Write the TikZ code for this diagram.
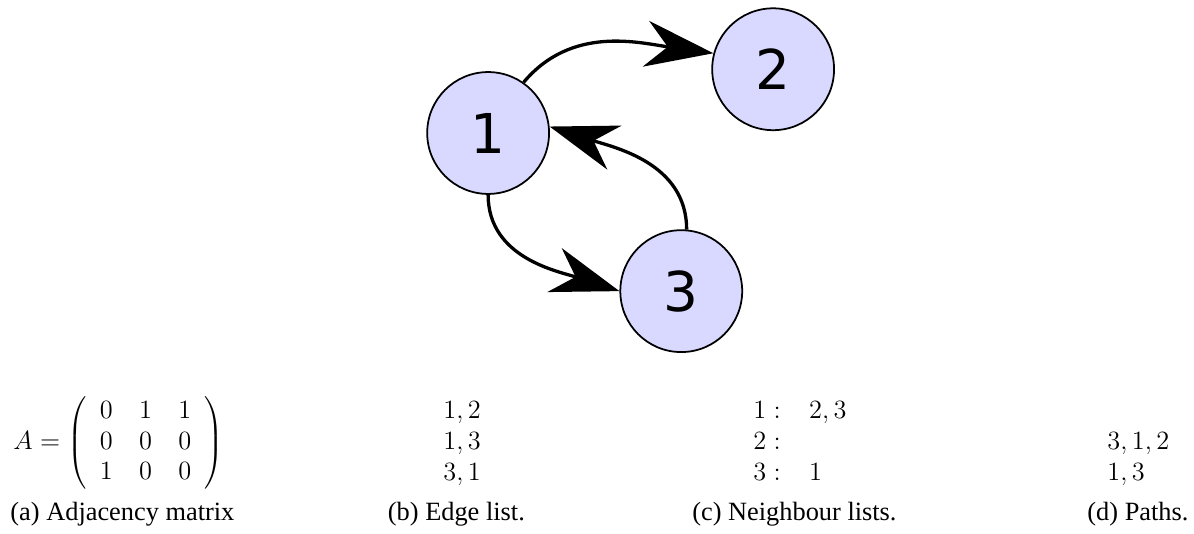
\documentclass[tikz,border=0pt]{standalone}
\usepackage{fontspec}
\newfontfamily\vertexfont{DejaVu Sans}
\newfontfamily\subcapfont{Liberation Serif}
\usetikzlibrary{arrows.meta}

\begin{document}
\begin{tikzpicture}[
    vertex/.style={circle, draw, line width=0.8pt, fill=blue!15,
                   minimum size=1.95cm, inner sep=0pt,
                   font=\vertexfont\fontsize{25}{30}\selectfont},
    link/.style={line width=1.5pt, -{Stealth[length=31pt,width=21pt,inset=10pt]}},
    entry/.style={anchor=base west, inner sep=0pt, font=\fontsize{12}{14}\selectfont},
    subcap/.style={anchor=base west, inner sep=0pt, font=\subcapfont\fontsize{12}{14}\selectfont}]
\useasboundingbox (0,0) rectangle (19.104,8.528);

% Graphe
\node [vertex] (n1) at (7.81,6.40)  {1};
\node [vertex] (n2) at (12.37,7.42) {2};
\node [vertex] (n3) at (10.90,3.87) {3};

\draw [link] (n1.55)  to[out=50,in=172]  (n2.165);
\draw [link] (n1.270) to[out=-90,in=162] (n3.180);
\draw [link] (n3.85)  to[out=90,in=-18]  (n1.6);

% Matrice d'adjacence
\node [entry, anchor=west] (adj) at (0.208,1.44)
      {$\arraycolsep=6pt A = \left(\begin{array}{ccc} 0 & 1 & 1\\ 0 & 0 & 0\\ 1 & 0 & 0 \end{array}\right)$};

% Liste des arcs
\foreach \e [count=\i] in {{1,2},{1,3},{3,1}}
\node [entry] (e\i) at (7.088,{2.328-0.496*\i}) {$\e$};

% Listes de voisins
\foreach \v/\w [count=\i] in {1/{2,3},2/{},3/1}
\node [entry] (nb\i) at (12.048,{2.328-0.496*\i}) {$\v:\hspace{0.8em}\w$};

% Chemins
\foreach \p [count=\i] in {{3,1,2},{1,3}}
\node [entry] (p\i) at (17.712,{1.832-0.496*\i}) {$\p$};

% Sous-figures
\node [subcap] (capa) at (0.16,0.208)   {(a) Adjacency matrix};
\node [subcap] (capb) at (6.2,0.208)    {(b) Edge list.};
\node [subcap] (capc) at (11.07,0.208)  {(c) Neighbour lists.};
\node [subcap] (capd) at (17.392,0.208) {(d) Paths.};

\end{tikzpicture}
\end{document}
